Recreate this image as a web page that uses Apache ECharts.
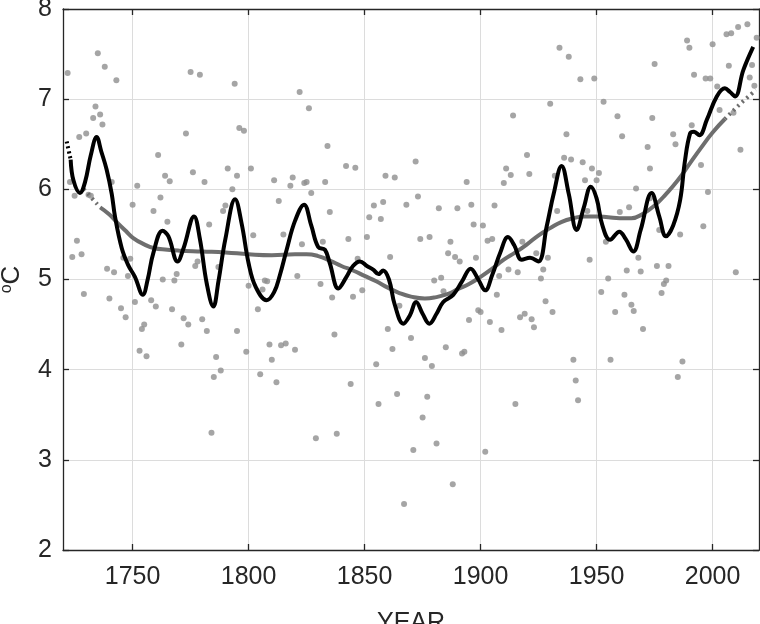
<!DOCTYPE html>
<html><head><meta charset="utf-8">
<script src="https://cdn.jsdelivr.net/npm/echarts@6/dist/echarts.min.js"></script>
<style>html,body{margin:0;padding:0;background:#fff}#c{width:760px;height:624px}</style>
</head><body><div id="c"></div>
<script>
const xTicks = [1750, 1800, 1850, 1900, 1950, 2000];
const yTicks = [2, 3, 4, 5, 6, 7, 8];
const xTitle = 'YEAR';
const obsYears = [1722,1735,1738,1743,1734,1733,1736,1737,1727,1730,1723,1725,1731,1732,1741,1752,1750,1759,1762,1761,1764,1766,1773,1775,1779,1776,1781,1794,1796,1798,1791,1795,1793,1801,1789,1790,1822,1826,1834,1842,1846,1811,1819,1818,1824,1825,1833,1827,1813,1835,1859,1863,1872,1873,1854,1858,1852,1857,1868,1882,1890,1896,1894,1906,1911,1910,1913,1914,1920,1921,1930,1934,1938,1943,1949,1953,1937,1936,1939,1944,1948,1951,1950,1945,1932,1959,1961,1967,1972,1973,1974,1975,1983,1984,1989,1990,1992,1991,1995,1998,1997,1999,2000,2002,2003,2007,2006,2008,2011,2015,2009,2012,2016,2017,2019,2018,1724,1726,1728,1729,1739,1742,1740,1745,1747,1748,1746,1749,1751,1754,1755,1753,1756,1758,1760,1763,1768,1769,1767,1771,1772,1774,1765,1777,1778,1780,1782,1783,1787,1786,1788,1785,1784,1795,1799,1800,1802,1804,1805,1807,1808,1806,1809,1810,1812,1814,1816,1820,1815,1821,1823,1832,1831,1836,1837,1843,1844,1845,1847,1849,1851,1855,1856,1860,1861,1862,1864,1865,1870,1874,1878,1875,1876,1877,1879,1880,1883,1884,1885,1887,1886,1889,1891,1897,1901,1898,1892,1893,1895,1899,1900,1903,1905,1904,1907,1908,1909,1912,1829,1838,1871,1881,1888,1867,1902,1916,1918,1924,1929,1927,1926,1928,1931,1917,1919,1922,1923,1915,1933,1940,1941,1942,1946,1947,1952,1954,1955,1956,1958,1960,1964,1962,1963,1965,1966,1968,1969,1970,1976,1977,1978,1979,1980,1981,1985,1987,1986,1996,2010,1973];
const obsTemps = [7.29,7.51,7.36,7.21,6.92,6.79,6.83,6.72,6.58,6.62,6.08,5.93,5.94,5.93,6.08,6.04,5.83,5.76,5.91,6.38,6.15,6.09,6.62,7.30,7.27,6.19,6.08,7.17,6.68,6.65,6.23,6.15,6.00,6.23,5.76,5.82,7.08,6.90,6.48,6.26,6.24,6.10,6.13,6.04,6.07,6.08,6.08,5.96,5.87,5.75,6.15,6.13,6.31,5.92,5.82,5.86,5.69,5.67,5.83,5.79,5.79,5.83,6.08,5.82,6.23,6.07,6.16,6.82,6.38,6.17,6.95,7.57,7.47,7.22,7.23,6.97,6.61,6.35,6.33,6.30,6.23,6.18,6.10,6.10,6.15,6.81,6.59,6.01,6.47,6.23,6.79,7.39,6.61,6.50,7.65,7.57,7.27,6.71,6.27,5.97,7.23,7.23,7.61,7.14,6.88,7.37,7.72,7.73,7.80,7.83,6.85,6.44,7.24,7.38,7.68,7.15,5.25,5.43,5.28,4.84,5.12,5.08,4.79,4.68,4.58,5.04,5.24,5.23,4.75,4.45,4.50,4.21,4.15,4.77,4.70,5.00,4.99,5.06,4.67,4.28,4.57,4.50,5.64,5.15,5.20,4.56,4.43,5.61,5.14,4.14,3.99,3.92,3.30,4.43,4.20,4.93,5.49,4.67,3.95,4.99,4.98,4.89,4.28,4.11,3.86,4.27,4.29,4.22,5.50,5.04,5.39,5.42,4.95,4.80,4.39,5.45,3.84,4.81,5.23,4.88,5.47,4.06,3.62,4.45,5.25,4.23,3.73,4.71,4.35,5.45,5.47,3.47,4.13,3.70,4.04,4.99,5.02,4.87,4.25,5.42,5.29,5.25,5.20,5.61,5.60,5.24,4.18,4.20,4.55,4.66,4.64,5.43,5.45,4.53,4.83,5.04,4.44,5.11,3.24,3.29,3.11,3.18,2.73,2.51,3.09,5.08,5.42,5.29,5.24,5.11,5.01,4.76,4.64,4.58,4.62,4.56,4.47,3.62,5.76,4.11,3.88,3.66,5.76,5.22,4.86,5.42,5.01,4.11,4.64,5.75,5.80,4.83,5.10,4.72,4.65,5.24,5.09,4.45,5.15,5.55,4.85,4.95,4.99,5.15,3.92,4.09,5.50,5.59,5.08,5.90];

const fastYears = [1723.3,1724.5,1727.3,1729.5,1732,1734.5,1736.5,1738.8,1741,1742.4,1745.3,1748.1,1751,1754.4,1756.5,1758.9,1762.9,1765.4,1769.4,1772,1776.5,1779,1782,1784.8,1787,1790,1794.2,1797,1800,1803,1807.8,1811,1813.5,1816.4,1820,1823.9,1827,1830,1832.9,1835,1838.7,1842,1845,1848,1851,1853.7,1856,1858,1860.5,1863,1866.7,1869.5,1872.2,1875,1877.9,1881,1883.9,1888.2,1892,1895.7,1899,1902,1905,1908.5,1911.8,1914.5,1917.7,1921.3,1924.9,1928.5,1931.5,1934.9,1938,1941.4,1944.5,1947.5,1950,1952.5,1955.8,1959.8,1962.5,1965.8,1969,1973.7,1977,1979.9,1983,1986,1988,1990.3,1992,1994.3,1997.5,2001.8,2005.3,2007.5,2009.7,2013.2,2017.5];
const fastTemps = [6.33,6.10,5.96,6.08,6.38,6.58,6.42,6.22,5.95,5.70,5.35,5.16,5.03,4.83,5.00,5.29,5.54,5.48,5.20,5.35,5.70,5.45,4.95,4.70,4.98,5.45,5.89,5.62,5.18,4.92,4.77,4.86,5.05,5.33,5.65,5.83,5.60,5.36,5.33,5.18,4.90,5.02,5.15,5.20,5.15,5.11,5.06,5.10,5.00,4.72,4.51,4.60,4.75,4.62,4.51,4.62,4.75,4.83,4.98,5.12,5.00,4.88,5.05,5.30,5.47,5.38,5.22,5.24,5.20,5.59,5.95,6.26,5.95,5.55,5.80,6.03,5.90,5.60,5.44,5.53,5.45,5.31,5.55,5.96,5.70,5.48,5.60,5.88,6.30,6.62,6.64,6.60,6.77,7.03,7.12,7.08,7.03,7.32,7.58];
const fastStartYears = [1721.6, 1723.3];
const fastStartTemps = [6.53, 6.33];

const trendYears = [1736,1740,1743.8,1747,1750.3,1755,1759,1765,1770,1780,1790,1800,1810,1820,1825,1830,1835,1840,1845,1850,1855,1860,1865,1870,1876,1880,1886,1890,1895,1900,1905,1910,1915,1920,1925,1930,1935,1940,1945,1950,1955,1960,1965,1970,1975,1980,1985,1990,1995,2000,2005.3];
const trendTemps = [5.80,5.72,5.62,5.54,5.46,5.39,5.35,5.33,5.32,5.31,5.30,5.28,5.27,5.28,5.28,5.26,5.21,5.15,5.10,5.04,4.98,4.91,4.85,4.81,4.79,4.80,4.84,4.89,4.95,5.03,5.12,5.22,5.30,5.39,5.49,5.57,5.64,5.68,5.70,5.70,5.69,5.68,5.68,5.73,5.82,5.95,6.10,6.28,6.46,6.63,6.78];
const trendStartYears = [1729, 1732.5, 1736];
const trendStartTemps = [6.00, 5.90, 5.80];
const trendEndYears = [2005.3, 2012, 2018.7];
const trendEndTemps = [6.78, 6.95, 7.10];

const zip = (a, b) => a.map((v, i) => [v, b[i]]);
const FONT = 'Liberation Sans';
const AX = '#262626';

const chart = echarts.init(document.getElementById('c'), null, {renderer: 'canvas'});
const baseX = {
  type: 'value', min: 1720, max: 2020,
  axisLine: {show: true, lineStyle: {color: AX, width: 1.3}},
  axisTick: {show: true, inside: true, length: 6, customValues: xTicks, lineStyle: {color: AX, width: 1.3}},
  splitLine: {show: false}
};
const baseY = {
  type: 'value', min: 2, max: 8, interval: 1,
  axisLine: {show: true, lineStyle: {color: AX, width: 1.3}},
  axisTick: {show: true, inside: true, length: 6, lineStyle: {color: AX, width: 1.3}},
  splitLine: {show: false}
};
chart.setOption({
  animation: false,
  backgroundColor: '#fff',
  grid: {left: 63, top: 9, right: 1, bottom: 74, containLabel: false, outerBoundsMode: 'none'},
  xAxis: [
    Object.assign({}, baseX, {
      position: 'bottom',
      name: xTitle, nameLocation: 'middle', nameGap: 61,
      nameTextStyle: {fontFamily: FONT, fontSize: 25, color: AX},
      axisLabel: {show: true, customValues: xTicks, margin: 15, fontFamily: FONT, fontSize: 25, color: AX,
                  formatter: v => String(v)},
      splitLine: {show: true, lineStyle: {color: '#dcdcdc', width: 1}}
    }),
    Object.assign({}, baseX, {position: 'top', axisLabel: {show: false}})
  ],
  yAxis: [
    Object.assign({}, baseY, {
      position: 'left',
      name: '{sup|o}{c|C}', nameLocation: 'middle', nameGap: 38, nameRotate: 90,
      nameTextStyle: {fontFamily: FONT, color: AX, rich: {
        sup: {fontFamily: FONT, fontSize: 16, color: AX, verticalAlign: 'top', padding: [0, 0, 10, 0]},
        c: {fontFamily: FONT, fontSize: 26, color: AX}
      }},
      axisLabel: {show: true, margin: 11, fontFamily: FONT, fontSize: 25, color: AX},
      splitLine: {show: true, lineStyle: {color: '#dcdcdc', width: 1}}
    }),
    Object.assign({}, baseY, {position: 'right', axisLabel: {show: false}})
  ],
  series: [
    {type: 'scatter', data: zip(obsYears, obsTemps), symbolSize: 6,
     itemStyle: {color: '#8e8e8e'}, z: 2, silent: true},
    {type: 'line', data: zip(trendStartYears, trendStartTemps), showSymbol: false, smooth: true,
     lineStyle: {color: '#6e6e6e', width: 4, type: [2, 4]}, z: 3},
    {type: 'line', data: zip(trendYears, trendTemps), showSymbol: false, smooth: true,
     lineStyle: {color: '#6e6e6e', width: 4}, z: 3},
    {type: 'line', data: zip(trendEndYears, trendEndTemps), showSymbol: false, smooth: true,
     lineStyle: {color: '#6e6e6e', width: 4, type: [2, 4]}, z: 3},
    {type: 'line', data: zip(fastStartYears, fastStartTemps), showSymbol: false, smooth: true,
     lineStyle: {color: '#000', width: 4, type: [2, 3]}, z: 4},
    {type: 'line', data: zip(fastYears, fastTemps), showSymbol: false, smooth: 0.4,
     lineStyle: {color: '#000', width: 4}, z: 4}
  ]
});
</script></body></html>
